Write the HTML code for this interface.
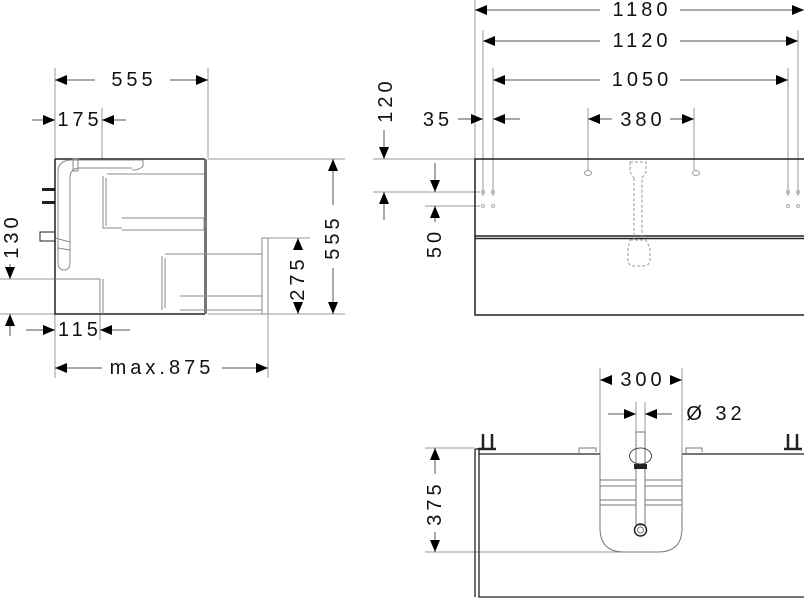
<!DOCTYPE html>
<html><head><meta charset="utf-8"><style>
html,body{margin:0;padding:0;background:#fff;}
svg{display:block;}
text{font-family:"Liberation Sans",sans-serif;font-size:20px;fill:#111;letter-spacing:4px;text-anchor:middle;dominant-baseline:central;}
</style></head><body>
<svg width="804" height="600" viewBox="0 0 804 600" xmlns="http://www.w3.org/2000/svg">
<defs>
<marker id="a" viewBox="0 0 12 10" refX="12" refY="5" markerWidth="12" markerHeight="10" markerUnits="userSpaceOnUse" orient="auto"><path d="M0,0 L12,5 L0,10 z" fill="#000"/></marker>
</defs>
<g stroke="#999" stroke-width="1" fill="none">
<line x1="55" y1="68" x2="55" y2="378"/>
<line x1="208" y1="68" x2="208" y2="158"/>
<line x1="102" y1="108" x2="102" y2="160"/>
<line x1="100" y1="280" x2="100" y2="340"/>
<line x1="268" y1="314" x2="268" y2="378"/>
<line x1="208" y1="159" x2="345" y2="159"/>
<line x1="208" y1="314" x2="345" y2="314"/>
<line x1="268" y1="238" x2="310" y2="238"/>
<line x1="0" y1="279" x2="55" y2="279"/>
<line x1="0" y1="314" x2="55" y2="314"/>
<line x1="475" y1="0" x2="475" y2="159"/>
<line x1="483" y1="30" x2="483" y2="196"/>
<line x1="493" y1="68" x2="493" y2="196"/>
<line x1="798" y1="30" x2="798" y2="196"/>
<line x1="788" y1="68" x2="788" y2="196"/>
<line x1="588" y1="108" x2="588" y2="170"/>
<line x1="694" y1="108" x2="694" y2="170"/>
<line x1="373" y1="159" x2="475" y2="159"/>
<line x1="373" y1="192" x2="480" y2="192"/>
<line x1="425" y1="206" x2="480" y2="206"/>
<line x1="600" y1="368" x2="600" y2="454"/>
<line x1="682" y1="368" x2="682" y2="454"/>
<line x1="636" y1="402" x2="636" y2="432"/>
<line x1="645" y1="402" x2="645" y2="432"/>
<line x1="425" y1="448" x2="475" y2="448"/>
<line x1="425" y1="552" x2="640" y2="552"/>
</g>
<g stroke="#555" stroke-width="1" fill="none">
<line x1="95" y1="80" x2="55" y2="80" marker-end="url(#a)"/><line x1="170" y1="80" x2="208" y2="80" marker-end="url(#a)"/>
<line x1="32" y1="120" x2="55" y2="120" marker-end="url(#a)"/><line x1="126" y1="120" x2="102" y2="120" marker-end="url(#a)"/>
<line x1="26" y1="330" x2="55" y2="330" marker-end="url(#a)"/><line x1="130" y1="330" x2="100" y2="330" marker-end="url(#a)"/>
<line x1="102" y1="368" x2="55" y2="368" marker-end="url(#a)"/><line x1="222" y1="368" x2="268" y2="368" marker-end="url(#a)"/>
<line x1="10" y1="264" x2="10" y2="279" marker-end="url(#a)"/><line x1="10" y1="336" x2="10" y2="314" marker-end="url(#a)"/>
<line x1="333" y1="205" x2="333" y2="159" marker-end="url(#a)"/><line x1="333" y1="268" x2="333" y2="314" marker-end="url(#a)"/>
<line x1="298" y1="250" x2="298" y2="238" marker-end="url(#a)"/><line x1="298" y1="306" x2="298" y2="314" marker-end="url(#a)"/>
<line x1="384" y1="130" x2="384" y2="159" marker-end="url(#a)"/><line x1="384" y1="220" x2="384" y2="192" marker-end="url(#a)"/>
<line x1="435" y1="163" x2="435" y2="192" marker-end="url(#a)"/><line x1="435" y1="222" x2="435" y2="206" marker-end="url(#a)"/>
<line x1="600" y1="10" x2="475" y2="10" marker-end="url(#a)"/><line x1="680" y1="10" x2="804" y2="10" marker-end="url(#a)"/>
<line x1="600" y1="41" x2="483" y2="41" marker-end="url(#a)"/><line x1="680" y1="41" x2="798" y2="41" marker-end="url(#a)"/>
<line x1="600" y1="80" x2="493" y2="80" marker-end="url(#a)"/><line x1="680" y1="80" x2="788" y2="80" marker-end="url(#a)"/>
<line x1="458" y1="119" x2="483" y2="119" marker-end="url(#a)"/><line x1="520" y1="119" x2="493" y2="119" marker-end="url(#a)"/>
<line x1="612" y1="119" x2="588" y2="119" marker-end="url(#a)"/><line x1="670" y1="119" x2="694" y2="119" marker-end="url(#a)"/>
<line x1="610" y1="380" x2="600" y2="380" marker-end="url(#a)"/><line x1="672" y1="380" x2="682" y2="380" marker-end="url(#a)"/>
<line x1="608" y1="414" x2="636" y2="414" marker-end="url(#a)"/><line x1="672" y1="414" x2="645" y2="414" marker-end="url(#a)"/>
<line x1="435" y1="474" x2="435" y2="448" marker-end="url(#a)"/><line x1="435" y1="532" x2="435" y2="552" marker-end="url(#a)"/>
</g>
<text x="134" y="80">555</text>
<text x="80" y="120">175</text>
<text x="80" y="330">115</text>
<text x="162" y="368">max.875</text>
<text x="642" y="10">1180</text>
<text x="642" y="41">1120</text>
<text x="642" y="80">1050</text>
<text x="438" y="120">35</text>
<text x="643" y="120">380</text>
<text x="643" y="380">300</text>
<text x="716" y="414">Ø 32</text>
<text transform="translate(12,236) rotate(-90)">130</text>
<text transform="translate(333,237) rotate(-90)">555</text>
<text transform="translate(298,278) rotate(-90)">275</text>
<text transform="translate(386,100) rotate(-90)">120</text>
<text transform="translate(435,243) rotate(-90)">50</text>
<text transform="translate(435,503) rotate(-90)">375</text>
<g fill="none" stroke="#222" stroke-width="1.5">
<path d="M55,159 H205 M55,159 V314 H205"/>
</g>
<rect x="204" y="159" width="3" height="155" fill="#777"/>
<g fill="none" stroke="#888" stroke-width="1">
<path d="M70,262 V178 Q70,168 80,168 H132 M58,262 V172 Q58,160 72,160 H143 V166 Q140,170 132,170"/>
<rect x="73" y="159" width="5" height="12"/>
<path d="M58,262 Q58,270 64,270 Q70,270 70,262"/>
<path d="M55,238 L70,242 V250 L58,248"/>
<path d="M107,174 H204 M103,176 V228 H122 M106,178 V226 M122,218 H204 V230 H122"/>
<path d="M165,254 H262 M162,256 V310 M165,258 V308 M180,296 H262 V310 H180"/>
<rect x="262" y="238" width="6" height="76"/>
<path d="M55,279 H100 V314 M103,279 V314"/>
</g>
<rect x="42" y="188" width="13" height="3" fill="#222"/>
<rect x="42" y="201" width="13" height="3" fill="#222"/>
<rect x="40" y="232" width="15" height="9" fill="none" stroke="#222"/>
<g fill="none" stroke="#222" stroke-width="1.5">
<path d="M804,159 H475 V315 H804"/>
<path d="M475,236 H804 M475,238.5 H804"/>
</g>
<g fill="none" stroke="#999" stroke-width="1">
<ellipse cx="588" cy="173" rx="3.5" ry="2.5"/><ellipse cx="696" cy="173" rx="3.5" ry="2.5"/>
<g stroke-dasharray="3,2">
<path d="M630,162 H646 V172 L642,178 V240 M634,178 V240 M630,162 V172 L634,178"/>
<path d="M630,240 H646 L650,248 V260 Q650,266 642,266 H634 Q628,266 628,260 V248 Z"/>
</g>
<g stroke="#aaa">
<circle cx="483" cy="192" r="1.5"/><circle cx="493" cy="192" r="1.5"/><circle cx="483" cy="206" r="1.5"/><circle cx="493" cy="206" r="1.5"/>
<circle cx="788" cy="192" r="1.5"/><circle cx="798" cy="192" r="1.5"/><circle cx="788" cy="206" r="1.5"/><circle cx="798" cy="206" r="1.5"/>
</g>
</g>
<g fill="none" stroke="#222" stroke-width="1.3">
<path d="M475,449 V597 M479,449 V597 H804"/>
<path d="M479,454 H600 M682,454 H804"/>
<path d="M475,449 H482"/>
</g>
<g fill="none" stroke="#777" stroke-width="1">
<path d="M600,454 V528 Q600,552 624,552 H658 Q682,552 682,528 V454"/>
<path d="M600,480 H682 M600,486 H682 M600,500 H682 M600,505 H682"/>
<path d="M579,454 V448 H596 V452 M686,454 V448 H702 V452"/>
<rect x="636" y="432" width="9" height="93" fill="#fff"/>
<circle cx="640.5" cy="530" r="6" stroke="#222" stroke-width="1.5"/>
<circle cx="640.5" cy="530" r="3"/>
<ellipse cx="640.5" cy="456" rx="11" ry="8" stroke="#444"/>
</g>
<rect x="634" y="464" width="13" height="5" fill="#222"/>
<g stroke="#222" stroke-width="2.5">
<line x1="483" y1="434" x2="483" y2="448"/><line x1="492" y1="434" x2="492" y2="448"/>
<line x1="788" y1="434" x2="788" y2="448"/><line x1="797" y1="434" x2="797" y2="448"/>
<line x1="478" y1="449" x2="496" y2="449"/><line x1="784" y1="449" x2="802" y2="449"/>
</g>
</svg>
</body></html>
